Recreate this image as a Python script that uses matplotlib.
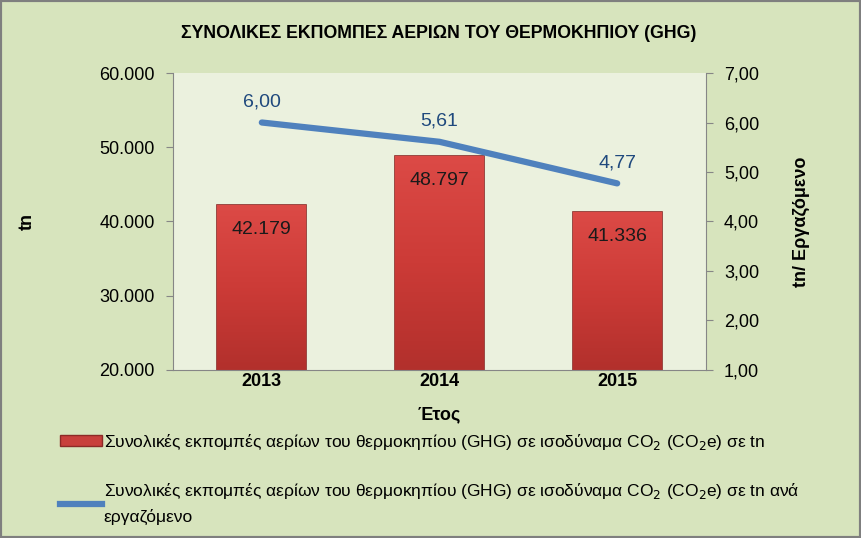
import numpy as np
import matplotlib.pyplot as plt
from matplotlib.patches import Rectangle
from matplotlib.lines import Line2D
from matplotlib.patches import Patch
from matplotlib.colors import LinearSegmentedColormap

years = ['2013', '2014', '2015']
emissions = [42179, 48797, 41336]
per_employee = [6.00, 5.61, 4.77]
emission_labels = ['42.179', '48.797', '41.336']
per_employee_labels = ['6,00', '5,61', '4,77']
left_ticks = [20000, 30000, 40000, 50000, 60000]
left_ticklabels = ['20.000', '30.000', '40.000', '50.000', '60.000']
right_ticks = [1, 2, 3, 4, 5, 6, 7]
right_ticklabels = ['1,00', '2,00', '3,00', '4,00', '5,00', '6,00', '7,00']

plt.rcParams['font.family'] = ['Liberation Sans', 'DejaVu Sans']

fig = plt.figure(figsize=(8.61, 5.38), dpi=100, facecolor='#D7E4BD')
fig.patches.append(Rectangle((0, 0), 1, 1, transform=fig.transFigure, fill=False,
                             edgecolor='#7F7F7F', linewidth=3))

ax = fig.add_axes([0.2009, 0.3123, 0.6191, 0.552])
ax.set_facecolor('#EBF1DE')
x = np.arange(len(years))
bars = ax.bar(x, emissions, width=0.5, color='#C8403C', edgecolor='#8C2A27',
              linewidth=1.2, zorder=2)
# vertical red gradient inside each bar
red_cmap = LinearSegmentedColormap.from_list('redgrad', ['#B2302C', '#CC3B37', '#DC4A46'])
grad = np.linspace(0, 1, 256).reshape(-1, 1)
for b in bars:
    im = ax.imshow(grad, cmap=red_cmap, origin='lower', aspect='auto', zorder=2.5,
                   extent=(b.get_x(), b.get_x() + b.get_width(), 20000, b.get_height()))
    im.set_clip_path(b)
ax.set_ylim(20000, 60000)
ax.set_xlim(-0.5, 2.5)
ax.set_yticks(left_ticks)
ax.set_yticklabels(left_ticklabels, fontsize=13)
ax.set_xticks(x)
ax.set_xticklabels(years, fontsize=13, fontweight='bold')
ax.tick_params(axis='x', length=0, pad=2)
ax.tick_params(axis='y', length=5, color='#868686', pad=8)
for s in ['top', 'right']:
    ax.spines[s].set_visible(False)
ax.spines['left'].set_color('#868686')
ax.spines['bottom'].set_color('#868686')
for b, lab in zip(bars, emission_labels):
    ax.text(b.get_x() + b.get_width() / 2, b.get_height() - 3300, lab,
            ha='center', va='center', fontsize=14, color='#1a1a1a', zorder=3)
ax.set_ylabel('tn', fontsize=13, fontweight='bold', labelpad=46)
ax.set_xlabel('Έτος', fontsize=13, fontweight='bold', labelpad=12)

ax2 = ax.twinx()
ax2.plot(x, per_employee, color='#4F81BD', linewidth=4.5, solid_capstyle='round', zorder=4)
ax2.set_ylim(1, 7)
ax2.set_yticks(right_ticks)
ax2.set_yticklabels(right_ticklabels, fontsize=13)
ax2.tick_params(axis='y', length=5, color='#868686', pad=8)
for s in ['top', 'left', 'bottom']:
    ax2.spines[s].set_visible(False)
ax2.spines['right'].set_color('#868686')
for xi, v, lab in zip(x, per_employee, per_employee_labels):
    ax2.text(xi, v + 0.42, lab, ha='center', va='center', fontsize=14, color='#1F497D')
ax2.set_ylabel('tn/ Εργαζόμενο', fontsize=13, fontweight='bold', labelpad=24)

fig.text(0.509, 0.937, 'ΣΥΝΟΛΙΚΕΣ ΕΚΠΟΜΠΕΣ ΑΕΡΙΩΝ ΤΟΥ ΘΕΡΜΟΚΗΠΙΟΥ (GHG)',
         ha='center', va='center', fontsize=12.8, fontweight='bold')

handles = [Patch(facecolor='#C8403C', edgecolor='#8C2A27'),
           Line2D([0], [0], color='#4F81BD', linewidth=4.5)]
labels = ['Συνολικές εκπομπές αερίων του θερμοκηπίου (GHG) σε ισοδύναμα CO$_2$ (CO$_2$e) σε tn',
          'Συνολικές εκπομπές αερίων του θερμοκηπίου (GHG) σε ισοδύναμα CO$_2$ (CO$_2$e) σε tn ανά\nεργαζόμενο']
leg = fig.legend(handles, labels, loc='upper left', bbox_to_anchor=(0.062, 0.21),
                 frameon=False, fontsize=12.5, handlelength=2.4, handleheight=0.6,
                 handletextpad=0.1, labelspacing=1.7, borderaxespad=0)
leg.get_texts()[1].set_linespacing(1.6)

fig.savefig('out.png', dpi=100, facecolor=fig.get_facecolor())
